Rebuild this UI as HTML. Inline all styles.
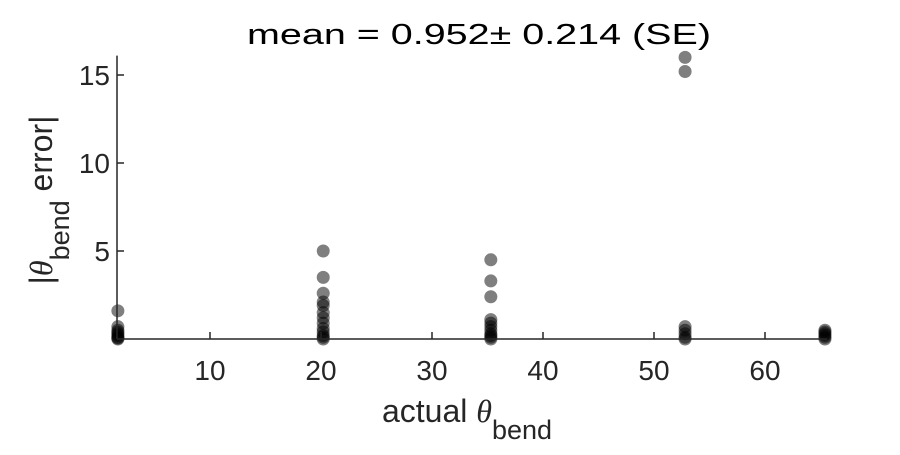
<!DOCTYPE html>
<html><head><meta charset="utf-8"><style>
body{margin:0;background:#fff;width:900px;height:450px;overflow:hidden}
svg{font-family:"Liberation Sans",sans-serif}
</style></head><body>
<svg id="chart" width="900" height="450" viewBox="0 0 900 450">
<rect width="900" height="450" fill="#fff"/>
<text x="479" y="44" font-size="29" text-anchor="middle" fill="#000" textLength="464" lengthAdjust="spacingAndGlyphs">mean = 0.952± 0.214 (SE)</text>
<g id="marks"></g>
<g id="axes"></g>
<text x="467" y="422" font-size="32" text-anchor="middle" fill="#262626">actual <tspan font-family="Liberation Serif" font-style="italic">θ</tspan><tspan font-size="27" dy="17">bend</tspan></text>
<text transform="translate(52,200) rotate(-90)" font-size="32" text-anchor="middle" fill="#262626">|<tspan font-family="Liberation Serif" font-style="italic">θ</tspan><tspan font-size="27" dy="17">bend</tspan><tspan dy="-17"> error|</tspan></text>
</svg>
<script>
const xGroups=[1.7,20.2,35.3,52.8,65.4];
const yGroup0=[1.6,0.7,0.5,0.4,0.3,0.2,0.1,0.05,0];
const yGroup1=[5.0,3.5,2.6,2.1,1.9,1.5,1.2,0.9,0.6,0.4,0.2,0.1,0];
const yGroup2=[4.5,3.3,2.4,1.1,0.9,0.7,0.5,0.3,0.2,0.1,0];
const yGroup3=[16.0,15.2,0.7,0.5,0.3,0.1,0];
const yGroup4=[0.5,0.4,0.3,0.2,0.1,0];
const xTicks=[10,20,30,40,50,60];
const yTicks=[5,10,15];
const NS="http://www.w3.org/2000/svg";
const X0=117,X1=827;
const Y0=339,YMIN=0,YMAX=16.1,PXY=17.6;
function sx(v){return 210+(v-10)*11.1;}
function sy(v){return Y0-(v-YMIN)*PXY;}
const marks=document.getElementById('marks');
const groups=[yGroup0,yGroup1,yGroup2,yGroup3,yGroup4];
groups.forEach((g,i)=>{g.forEach(v=>{
 const c=document.createElementNS(NS,'circle');
 
 
 c.setAttribute('cx',sx(xGroups[i]));c.setAttribute('cy',sy(v));c.setAttribute('r',6.5);
 c.setAttribute('fill','#000');c.setAttribute('fill-opacity','0.5');
 marks.appendChild(c);});});
const axes=document.getElementById('axes');
function line(x1,y1,x2,y2,name){const l=document.createElementNS(NS,'line');
 
 
 l.setAttribute('x1',x1);l.setAttribute('y1',y1);l.setAttribute('x2',x2);l.setAttribute('y2',y2);
 l.setAttribute('stroke','#262626');l.setAttribute('stroke-width','1.5');axes.appendChild(l);}
line(X0,Y0,X1,Y0,'x-axis');
line(X0,Y0,X0,sy(YMAX),'y-axis');
xTicks.forEach(t=>{line(sx(t),Y0,sx(t),Y0-7,'x-tick');
 const tx=document.createElementNS(NS,'text');
 
 
 tx.setAttribute('x',sx(t));tx.setAttribute('y',Y0+41);tx.setAttribute('font-size','28');
 tx.setAttribute('text-anchor','middle');tx.setAttribute('fill','#262626');tx.textContent=t;axes.appendChild(tx);});
yTicks.forEach(t=>{line(X0,sy(t),X0+7,sy(t),'y-tick');
 const tx=document.createElementNS(NS,'text');
 
 
 tx.setAttribute('x',X0-7);tx.setAttribute('y',sy(t)+10);tx.setAttribute('font-size','28');
 tx.setAttribute('text-anchor','end');tx.setAttribute('fill','#262626');tx.textContent=t;axes.appendChild(tx);});
</script>
</body></html>
